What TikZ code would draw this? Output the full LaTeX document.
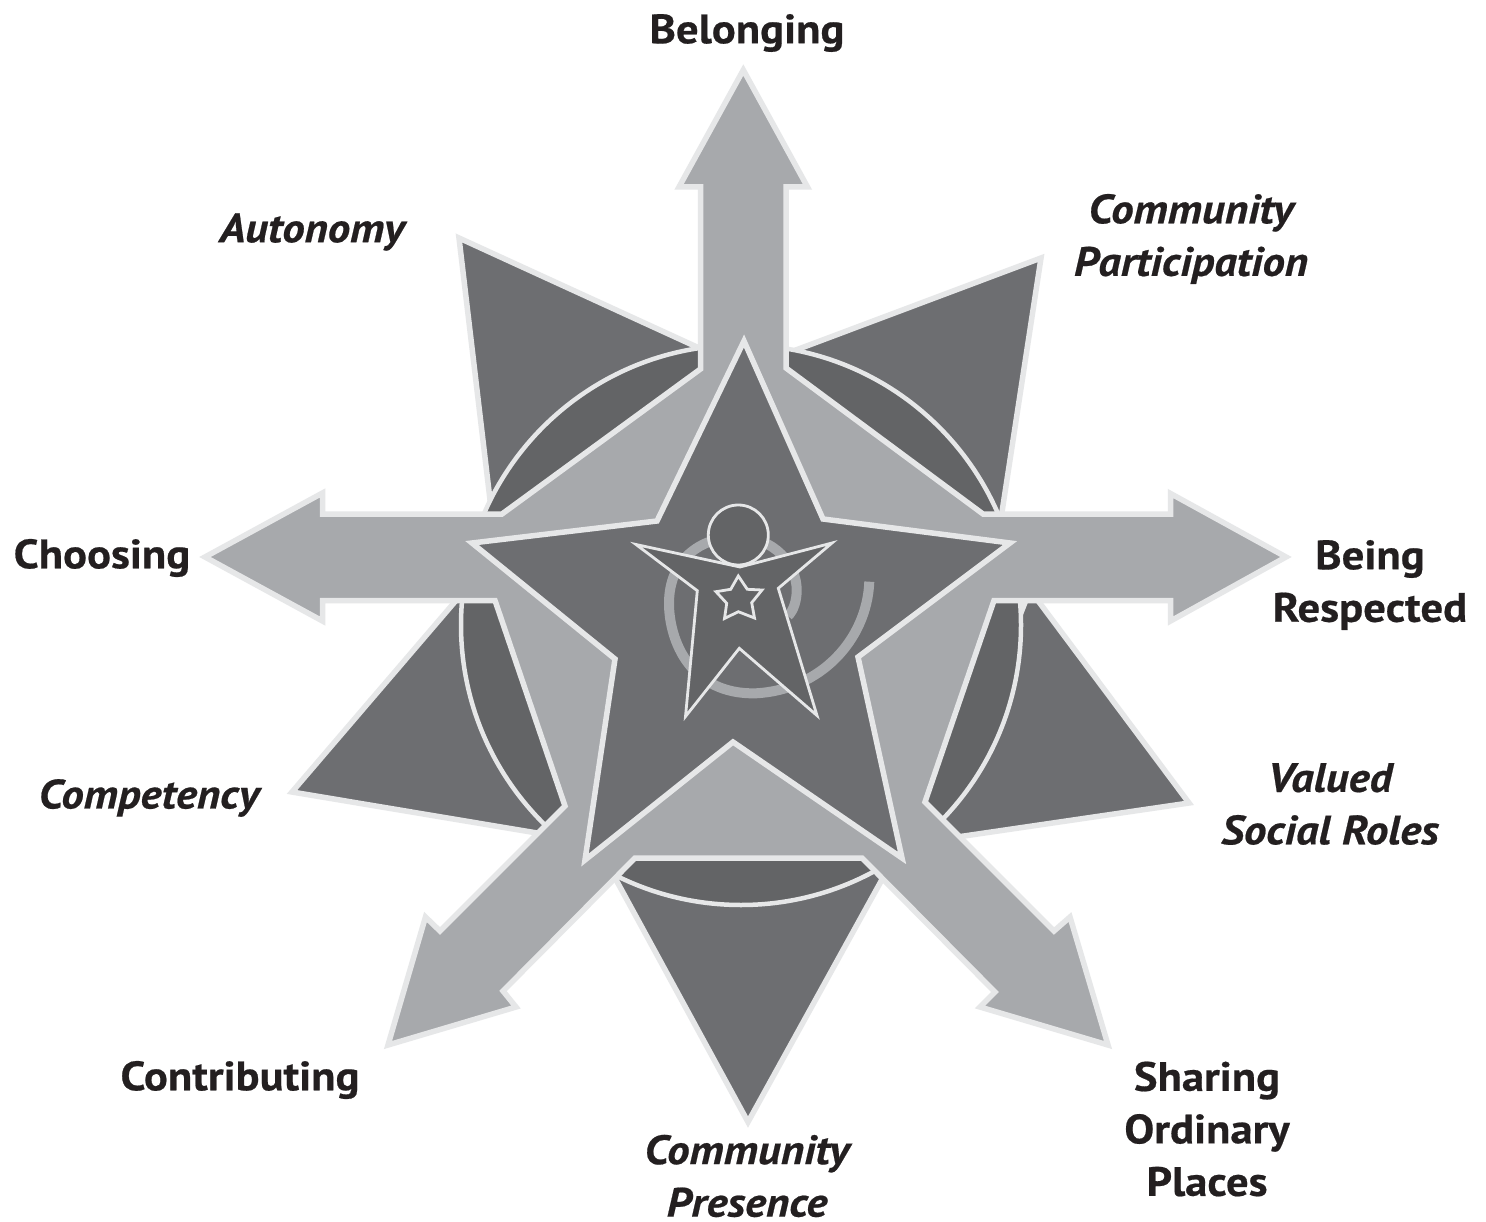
\documentclass[tikz,border=0pt]{standalone}
\usepackage{fontspec}
\setmainfont{PT Sans}[FakeStretch=1.09,FakeBold=0.5]
\definecolor{edgec}{HTML}{E6E7E8}
\definecolor{armc}{HTML}{A7A9AC}
\definecolor{darkc}{HTML}{6D6E71}
\definecolor{lensc}{HTML}{636466}
\definecolor{inkc}{HTML}{231F20}
\tikzset{
 tri/.style={fill=darkc,draw=edgec,line width=5.5pt,line join=miter},
 lens/.style={fill=lensc,draw=edgec,line width=4.5pt},
 arms/.style={fill=armc,draw=edgec,line width=5.5pt,line join=miter},
 bigstar/.style={fill=darkc,draw=edgec,line width=5.5pt,line join=miter},
 ring/.style={draw=armc,line width=10pt,line cap=butt},
 fig/.style={fill=lensc,draw=edgec,line width=2.8pt,line join=miter},
 lab/.style={font=\bfseries\fontsize{41}{52.5}\selectfont,text=inkc,align=center,inner sep=0pt},
 labi/.style={lab,font=\bfseries\itshape\fontsize{41}{52.5}\selectfont},
}
\begin{document}
\begin{tikzpicture}[x=1pt,y=-1pt]
\useasboundingbox (0,0) rectangle (1486,1222);
\fill[white] (0,0) rectangle (1486,1222);
% outer triangles
\draw[tri] (459,238) -- (710,353) -- (493,525) -- cycle;
\draw[tri] (1041,258) -- (780,356) -- (1000,525) -- cycle;
\draw[tri] (1189,803) -- (1030,590) -- (930,841) -- cycle;
\draw[tri] (292,792) -- (465,590) -- (555,836) -- cycle;
\draw[tri] (748,1122) -- (608,865) -- (890,865) -- cycle;
% circle
\draw[lens] (741,625) circle (280);
% arrows
\draw[arms] (743.3,70) -- (807.5,187) -- (786,187) -- (786,368) -- (983,514) -- (1170.5,514) -- (1170.5,493.5) -- (1286,557) -- (1170.5,621) -- (1170.5,600.5) -- (994,600.5) -- (925,802) -- (1054,931) -- (1070,917) -- (1108,1045) -- (980,1007) -- (995,992) -- (862,858) -- (635,858) -- (503,991) -- (516,1007) -- (388,1045) -- (425.5,917) -- (440,931) -- (565,806) -- (495,600.5) -- (322.5,600.5) -- (322.5,621) -- (205,557) -- (322.5,493) -- (322.5,514) -- (502,514) -- (700.5,369) -- (700.5,187) -- (679,187) -- cycle;
% central star
\draw[bigstar] (744,341) -- (823,519) -- (1010,543) -- (858,657) -- (902,858) -- (733,742) -- (585,860) -- (615,659) -- (472,543) -- (657,521) -- cycle;
% figure
\draw[ring] (869.3,581.7) .. controls (867,640) and (820,690) .. (756,693.3)
  .. controls (690,695) and (669,640) .. (669,603.3)
  .. controls (669,560) and (700,537) .. (737,537)
  .. controls (775,537) and (796.7,565) .. (796.7,590)
  .. controls (796.7,600) and (794,610) .. (788,616);
\draw[fig] (738.3,535) circle (30);
\draw[fig] (636,544.5) -- (740,567) -- (832,543) -- (778.3,588.3) -- (817,715.5) -- (739.3,648.3) -- (685.5,716.5) -- (697.3,590.7) -- cycle;
\draw[fig] (738.3,576) -- (747.3,589.3) -- (762,590) -- (751.7,602.7) -- (754.5,618) -- (738.3,611.7) -- (724.5,618.5) -- (726.7,603.3) -- (716,591.7) -- (730.7,589.3) -- cycle;
% labels
\node[lab] (belonging) at (747,33) {Belonging};
\node[labi] (autonomy) at (312,232) {Autonomy};
\node[labi] (participation) at (1191,239) {Community\\Participation};
\node[lab] (choosing) at (102,558) {Choosing};
\node[lab] (respected) at (1370,585) {Being\\Respected};
\node[labi] (roles) at (1330,804) {Valued\\Social Roles};
\node[labi] (competency) at (149,798) {Competency};
\node[lab] (contributing) at (240,1080) {Contributing};
\node[lab] (places) at (1207,1129) {Sharing\\Ordinary\\Places};
\node[labi] (presence) at (747,1176) {Community\\Presence};
\end{tikzpicture}
\end{document}
